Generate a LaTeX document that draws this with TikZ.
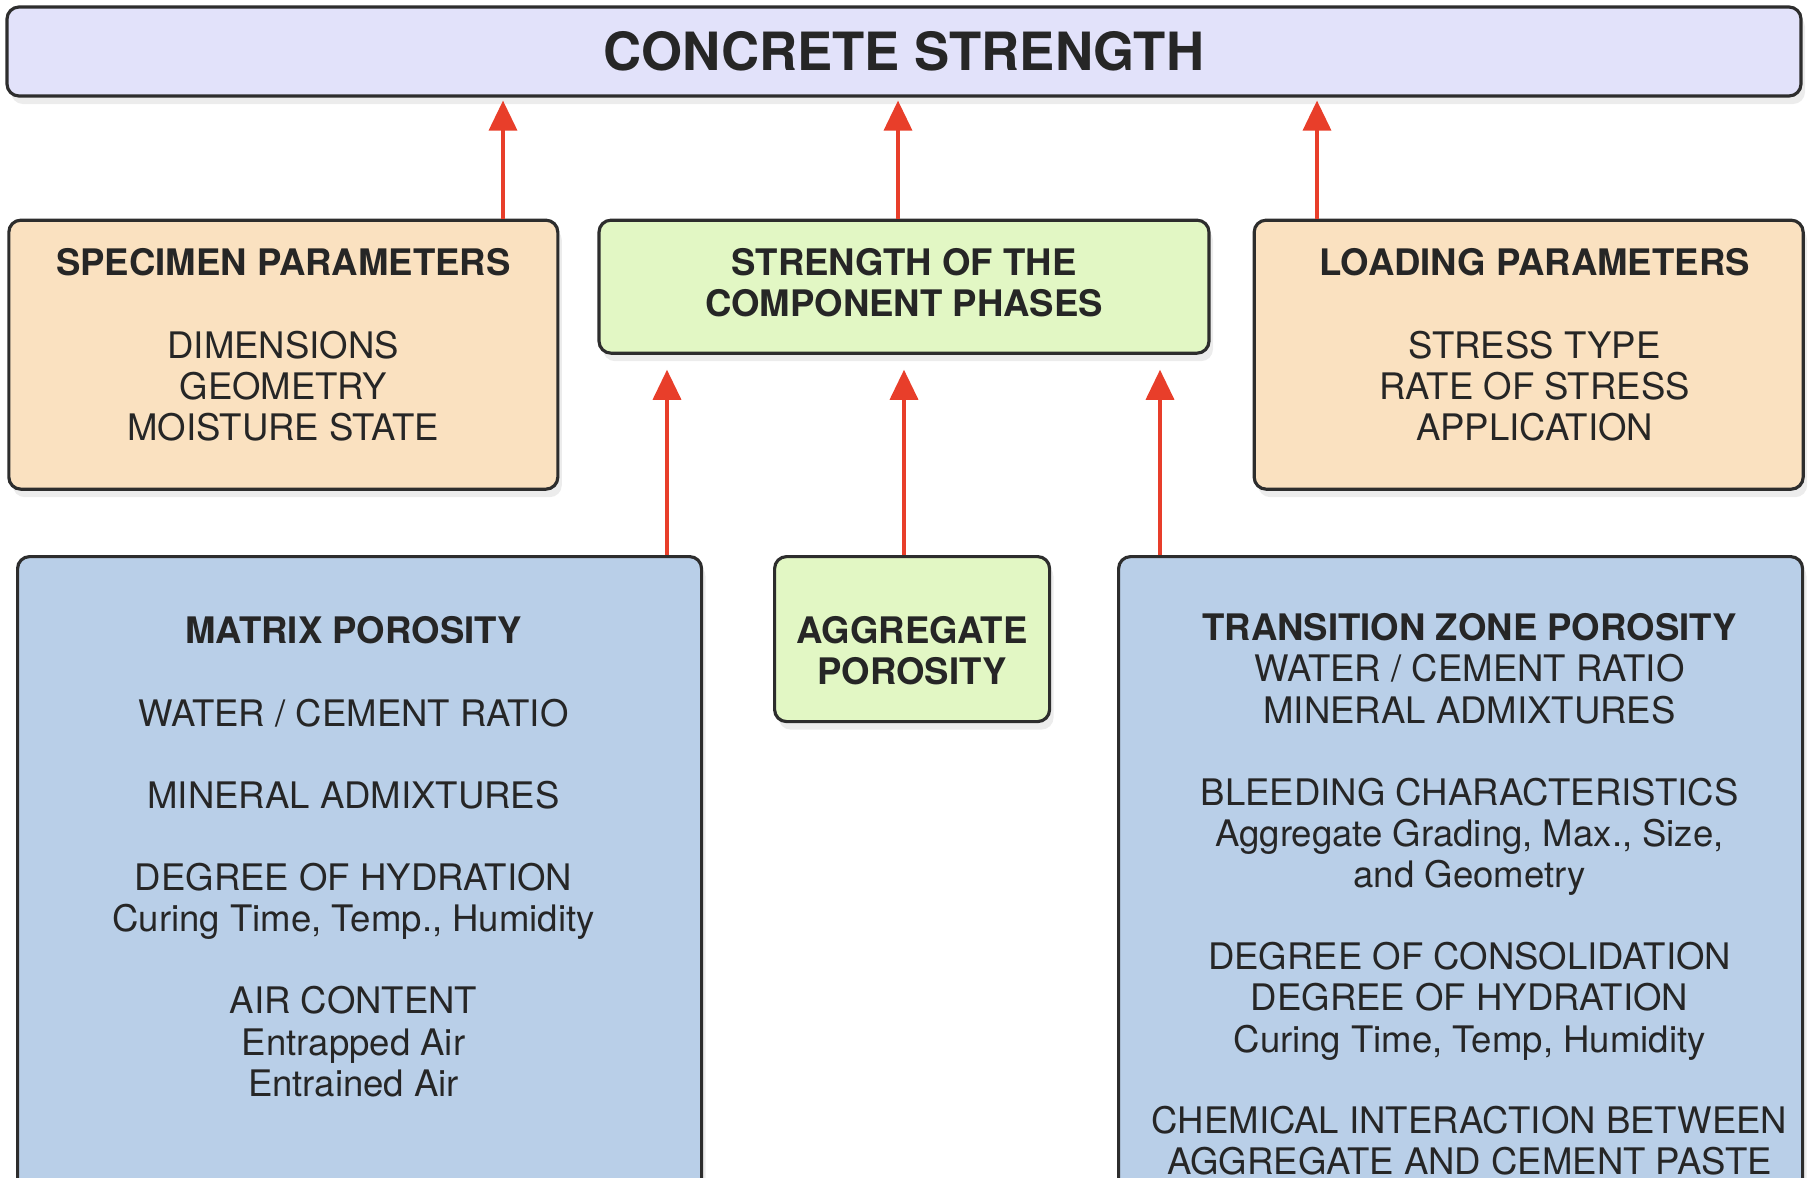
\documentclass[tikz,border=0pt]{standalone}
\usepackage{fontspec}
\setmainfont{TeX Gyre Heros}
\usepackage{xcolor}
\usepackage{tikz}
\usetikzlibrary{arrows.meta, positioning, shadows}

\definecolor{lavbox}{RGB}{226,226,250}
\definecolor{peach}{RGB}{250,225,192}
\definecolor{lime}{RGB}{226,247,196}
\definecolor{steel}{RGB}{185,207,232}
\definecolor{boxline}{RGB}{45,45,45}
\definecolor{arrowred}{RGB}{232,62,42}

\begin{document}
\begin{tikzpicture}[
        every node/.style={font=\fontsize{10.4}{11.7}\selectfont, text=black!85},
        box/.style={draw=boxline, line width=0.9pt, rounded corners=0.12cm,
            drop shadow={shadow xshift=0.04cm, shadow yshift=-0.08cm, opacity=0.15}},
        hdr/.style={box, fill=lavbox, minimum width=17.94cm, minimum height=0.89cm,
            font=\fontsize{15}{18}\selectfont\bfseries},
        param/.style={box, fill=peach, minimum width=5.49cm, minimum height=2.69cm},
        phase/.style={box, fill=lime},
        poro/.style={box, fill=steel, minimum width=6.84cm, minimum height=7cm},
        txt/.style={align=center, inner sep=0pt},
        arr/.style={-{Triangle[width=0.28cm, length=0.3cm]}, line width=1pt, draw=arrowred}
    ]
        \clip (0,0) rectangle (18.10,-11.77);

        \node[hdr] (concrete) at (9.04,-0.515) {CONCRETE STRENGTH};
        \node[phase, minimum width=6.10cm, minimum height=1.33cm, below=1.21cm of concrete] (phases) {};
        \node[param, left=0.38cm of phases.north west, anchor=north east] (specimen) {};
        \node[param, right=0.42cm of phases.north east, anchor=north west] (loading) {};
        \node[poro, anchor=north west] (matrix) at (0.16,-5.55) {};
        \node[phase, minimum width=2.75cm, minimum height=1.65cm, anchor=north west] (aggr) at (7.73,-5.55) {};
        \node[poro, anchor=north west] (itz) at (11.17,-5.55) {};

        % box contents
        \node[txt, below=0.29cm of phases.north, font=\fontsize{10.4}{11.7}\selectfont\bfseries] (phasestxt) {STRENGTH OF THE\\COMPONENT PHASES};
        \node[txt, below=0.61cm of aggr.north, font=\fontsize{10.4}{11.7}\selectfont\bfseries] (aggrtxt) {AGGREGATE\\POROSITY};
        \node[txt, below=0.29cm of specimen.north] (spectxt) {\textbf{SPECIMEN PARAMETERS}\\[12pt]
            DIMENSIONS\\GEOMETRY\\MOISTURE STATE};
        \node[txt, below=0.29cm of loading.north, xshift=0.06cm] (loadtxt) {\textbf{LOADING PARAMETERS}\\[12pt]
            STRESS TYPE\\RATE OF STRESS\\APPLICATION};
        \node[txt, below=0.61cm of matrix.north, xshift=-0.06cm] (matrixtxt) {\textbf{MATRIX POROSITY}\\[11.7pt]
            WATER / CEMENT RATIO\\[11.7pt]
            MINERAL ADMIXTURES\\[11.7pt]
            DEGREE OF HYDRATION\\Curing Time, Temp., Humidity\\[11.7pt]
            AIR CONTENT\\Entrapped Air\\Entrained Air};
        \node[txt, below=0.58cm of itz.north, xshift=0.09cm] (itztxt) {\textbf{TRANSITION ZONE POROSITY}\\
            WATER / CEMENT RATIO\\MINERAL ADMIXTURES\\[11.7pt]
            BLEEDING CHARACTERISTICS\\Aggregate Grading, Max., Size,\\and Geometry\\[11.7pt]
            DEGREE OF CONSOLIDATION\\DEGREE OF HYDRATION\\Curing Time, Temp, Humidity\\[11.4pt]
            CHEMICAL INTERACTION BETWEEN\\AGGREGATE AND CEMENT PASTE};

        % arrows
        \coordinate (up1) at (5.03,0);
        \coordinate (up2) at (8.98,0);
        \coordinate (up3) at (13.17,0);
        \coordinate (in1) at (6.67,0);
        \coordinate (in2) at (9.04,0);
        \coordinate (in3) at (11.60,0);

        \draw[arr, shorten >=0.03cm] (specimen.north -| up1) -- (concrete.south -| up1);
        \draw[arr, shorten >=0.03cm] (phases.north -| up2) -- (concrete.south -| up2);
        \draw[arr, shorten >=0.03cm] (loading.north -| up3) -- (concrete.south -| up3);
        \draw[arr, shorten >=0.15cm] (matrix.north -| in1) -- (phases.south -| in1);
        \draw[arr, shorten >=0.15cm] (aggr.north -| in2) -- (phases.south -| in2);
        \draw[arr, shorten >=0.15cm] (itz.north -| in3) -- (phases.south -| in3);
    \end{tikzpicture}
\end{document}
